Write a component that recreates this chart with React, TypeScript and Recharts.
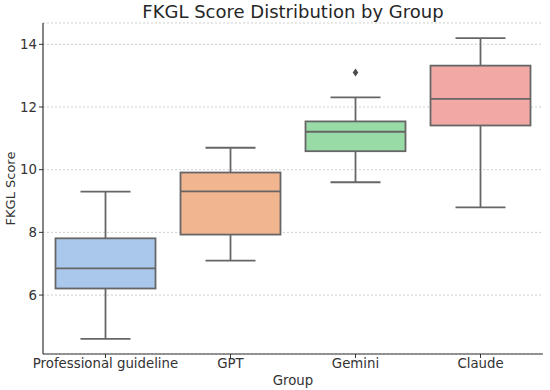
import React from 'react';
import { ComposedChart, Bar, Scatter, XAxis, YAxis, CartesianGrid, Label } from 'recharts';

const groups = ['Professional guideline', 'GPT', 'Gemini', 'Claude'];
const whiskerLow = [4.6, 7.1, 9.6, 8.8];
const q1 = [6.21, 7.93, 10.59, 11.41];
const median = [6.85, 9.31, 11.21, 12.26];
const q3 = [7.81, 9.91, 11.54, 13.32];
const whiskerHigh = [9.3, 10.7, 12.31, 14.2];
const outliers: (number | null)[] = [null, null, 13.1, null];
const yTicks = [6, 8, 10, 12, 14];

const COLORS = ['#aac8ec', '#f1b58f', '#98dba6', '#f2a8a5'];
const EDGE = '#666666';
const FONT = 'DejaVu Sans, sans-serif';

const data = groups.map((g, i) => ({
  group: g,
  range: [whiskerLow[i], whiskerHigh[i]],
  q1: q1[i],
  median: median[i],
  q3: q3[i],
  outlier: outliers[i],
}));

function BoxShape(props: any) {
  const { x, y, width, height, payload, index } = props;
  if (!payload) return null;
  const [lo, hi] = payload.range;
  const top = Math.min(y, y + height);
  const bottom = Math.max(y, y + height);
  const py = (v: number) => top + ((bottom - top) * (hi - v)) / (hi - lo);
  const cx = x + width / 2;
  const capHalf = width / 4;
  const yQ1 = py(payload.q1);
  const yQ3 = py(payload.q3);
  const yMed = py(payload.median);
  return (
    <g>
      <line x1={cx} x2={cx} y1={top} y2={yQ3} stroke={EDGE} strokeWidth={1.8} />
      <line x1={cx} x2={cx} y1={yQ1} y2={bottom} stroke={EDGE} strokeWidth={1.8} />
      <line x1={cx - capHalf} x2={cx + capHalf} y1={top} y2={top} stroke={EDGE} strokeWidth={1.8} />
      <line x1={cx - capHalf} x2={cx + capHalf} y1={bottom} y2={bottom} stroke={EDGE} strokeWidth={1.8} />
      <rect x={x} y={yQ3} width={width} height={yQ1 - yQ3} fill={COLORS[index % COLORS.length]} stroke={EDGE} strokeWidth={1.8} />
      <line x1={x} x2={x + width} y1={yMed} y2={yMed} stroke={EDGE} strokeWidth={1.8} />
    </g>
  );
}

function OutlierShape(props: any) {
  const { cx, cy, payload } = props;
  if (!payload || payload.outlier == null || !isFinite(cy)) return null;
  const w = 2.8;
  const h = 4;
  return (
    <path
      d={`M${cx},${cy - h} L${cx + w},${cy} L${cx},${cy + h} L${cx - w},${cy} Z`}
      fill="#4d4d4d"
    />
  );
}

export default function App() {
  return (
    <div style={{ position: 'absolute', left: 0, top: 0, width: 550, height: 390, background: '#fff' }}>
      <div
        style={{
          position: 'absolute',
          left: 0,
          width: 586,
          top: 1,
          textAlign: 'center',
          fontFamily: FONT,
          fontSize: 18,
          color: '#262626',
          lineHeight: '22px',
        }}
      >
        FKGL Score Distribution by Group
      </div>
      <ComposedChart
        width={550}
        height={390}
        data={data}
        margin={{ top: 23, right: 7, bottom: 0, left: 0 }}
        barCategoryGap="10%"
      >
        <CartesianGrid horizontal vertical={false} stroke="#cfcfcf" strokeDasharray="2 2" />
        <XAxis
          dataKey="group"
          type="category"
          height={36}
          axisLine={{ stroke: '#333', strokeWidth: 1.2 }}
          tickLine={{ stroke: '#333' }}
          tickSize={4}
          tickMargin={1}
          tick={{ fill: '#333', fontSize: 13.3, fontFamily: FONT }}
          interval={0}
        >
          <Label value="Group" position="insideBottom" offset={5} fill="#333" fontSize={13.3} fontFamily={FONT} />
        </XAxis>
        <YAxis
          type="number"
          domain={[4.12, 14.68]}
          ticks={yTicks}
          width={43}
          axisLine={{ stroke: '#333', strokeWidth: 1.2 }}
          tickLine={{ stroke: '#333' }}
          tickSize={4}
          tickMargin={2}
          tick={{ fill: '#333', fontSize: 13.3, fontFamily: FONT }}
          allowDataOverflow
        >
          <Label value="FKGL Score" angle={-90} position="insideLeft" offset={10} fill="#333" fontSize={13} fontFamily={FONT} style={{ textAnchor: 'middle' }} />
        </YAxis>
        <Bar dataKey="range" shape={<BoxShape />} isAnimationActive={false} />
        <Scatter dataKey="outlier" shape={<OutlierShape />} isAnimationActive={false} />
      </ComposedChart>
    </div>
  );
}
